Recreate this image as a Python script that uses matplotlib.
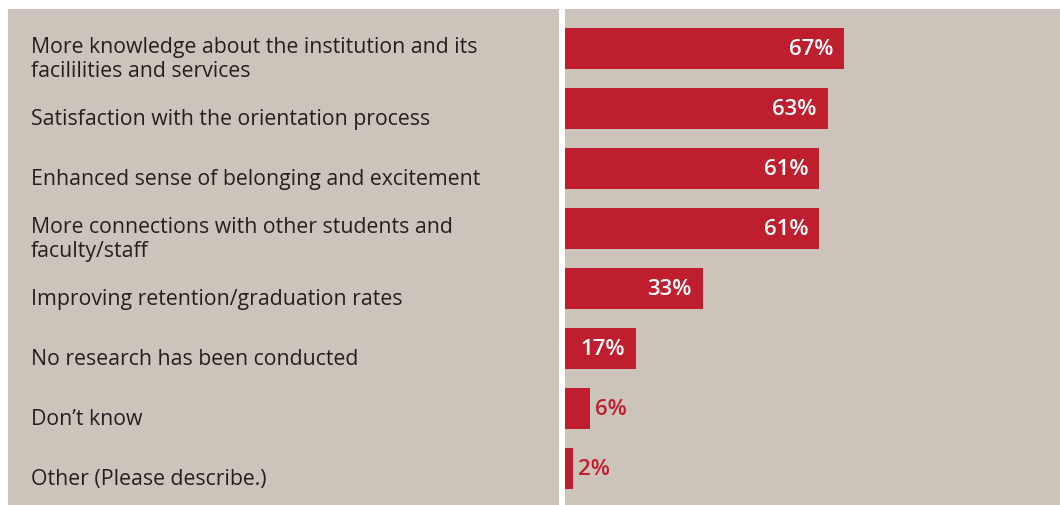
import matplotlib.pyplot as plt
import matplotlib.transforms as mtransforms

# data
labels = ['More knowledge about the institution and its\nfacililities and services',
          'Satisfaction with the orientation process',
          'Enhanced sense of belonging and excitement',
          'More connections with other students and\nfaculty/staff',
          'Improving retention/graduation rates',
          'No research has been conducted',
          'Don\u2019t know',
          'Other (Please describe.)']
values = [67, 63, 61, 61, 33, 17, 6, 2]

beige = '#CCC4BA'
red = '#BE1E2D'
plt.rcParams['font.family'] = ['Open Sans', 'DejaVu Sans']

W, H = 1060, 506
fig = plt.figure(figsize=(W / 100, H / 100), dpi=100, facecolor='white')

# left panel with labels, right panel with bars
ax_l = fig.add_axes([8 / W, 0, (559 - 8) / W, 496 / H])
ax_r = fig.add_axes([565 / W, 0, (W - 565) / W, 496 / H])

ypos = list(range(len(values)))
for ax in (ax_l, ax_r):
    ax.set_facecolor(beige)
    ax.set_ylim(7.608, -0.658)
    for s in ax.spines.values():
        s.set_visible(False)
    ax.set_xticks([])
    ax.set_yticks([])

ax_r.set_xlim(0, 118.7)
ax_r.barh(ypos, values, height=0.68, color=red)

# value labels
for y, v in zip(ypos, values):
    if v > 10:
        tr = mtransforms.offset_copy(ax_r.transData, fig=fig, x=-11, y=0, units='dots')
        ax_r.text(v, y, f'{v}%', transform=tr, ha='right', va='center',
                  color='white', fontsize=16, fontweight='semibold')
    else:
        tr = mtransforms.offset_copy(ax_r.transData, fig=fig, x=5, y=0, units='dots')
        ax_r.text(v, y, f'{v}%', transform=tr, ha='left', va='center',
                  color=red, fontsize=16, fontweight='semibold')

# category labels, a little below the bar centre like the original
tr_l = mtransforms.offset_copy(
    mtransforms.blended_transform_factory(ax_l.transAxes, ax_l.transData),
    fig=fig, x=0, y=-10, units='dots')
for y, lab in zip(ypos, labels):
    ax_l.text(23 / 551, y, lab, transform=tr_l, ha='left', va='center',
              fontsize=15.3, color='#231F20', linespacing=1.2)

fig.savefig('out.png', dpi=100, facecolor='white')
